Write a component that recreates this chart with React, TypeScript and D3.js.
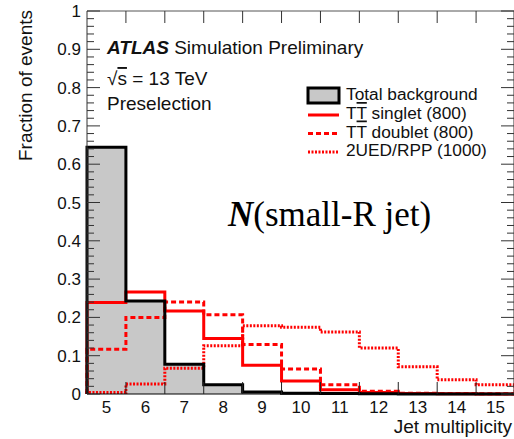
import React from "react";
import * as d3 from "d3";

const bins = [5, 6, 7, 8, 9, 10, 11, 12, 13, 14, 15];
const background = [0.644, 0.243, 0.078, 0.024, 0.005, 0.002, 0.001, 0.0005, 0, 0, 0];
const singlet = [0.239, 0.266, 0.217, 0.145, 0.075, 0.034, 0.011, 0.004, 0.001, 0.0005, 0];
const doublet = [0.117, 0.2, 0.24, 0.207, 0.129, 0.065, 0.024, 0.007, 0.002, 0.001, 0.0005];
const rpp = [0.004, 0.026, 0.067, 0.126, 0.178, 0.174, 0.162, 0.12, 0.071, 0.037, 0.024];
const yTicks = [0, 0.1, 0.2, 0.3, 0.4, 0.5, 0.6, 0.7, 0.8, 0.9, 1];
const yTickLabels = ["0", "0.1", "0.2", "0.3", "0.4", "0.5", "0.6", "0.7", "0.8", "0.9", "1"];

const W = 514;
const H = 439;
const left = 87;
const right = 515;
const top = 11;
const bottom = 394;

const x = d3.scaleLinear().domain([4.5, 15.5]).range([left, right]);
const y = d3.scaleLinear().domain([0, 1]).range([bottom, top]);

function stepPoints(vals: number[]): [number, number][] {
  const pts: [number, number][] = [[bins[0] - 0.5, 0]];
  vals.forEach((v, i) => pts.push([bins[i] - 0.5, v]));
  pts.push([bins[bins.length - 1] + 0.5, vals[vals.length - 1]]);
  pts.push([bins[bins.length - 1] + 0.5, 0]);
  return pts;
}

const line = d3
  .line<[number, number]>()
  .x((d) => x(d[0]))
  .y((d) => y(d[1]))
  .curve(d3.curveStepAfter);

const area = d3
  .area<[number, number]>()
  .x((d) => x(d[0]))
  .y0(y(0))
  .y1((d) => y(d[1]))
  .curve(d3.curveStepAfter);

const SANS = "'Liberation Sans', Arial, Helvetica, sans-serif";
const SERIF = "'Liberation Serif', 'Times New Roman', serif";

export default function App() {
  const bgPts = stepPoints(background);
  const minorY = d3.range(0, 1.0001, 0.02);
  const edges = d3.range(5.5, 15, 1);
  const legendX = 308;
  const legendRows = [118, 136.5, 155];
  return (
    <svg
      width={W}
      height={H}
      style={{ position: "absolute", left: 0, top: 0, background: "#fff" }}
      fontFamily={SANS}
    >
      {/* histograms */}
      <path d={area(bgPts) || ""} fill="#c8c8c8" stroke="none" />
      <path d={line(stepPoints(rpp)) || ""} fill="none" stroke="#ff0000" strokeWidth={3} strokeDasharray="2,1.5" />
      <path d={line(stepPoints(doublet)) || ""} fill="none" stroke="#ff0000" strokeWidth={3} strokeDasharray="5,3" />
      <path d={line(stepPoints(singlet)) || ""} fill="none" stroke="#ff0000" strokeWidth={3} />
      <path d={line(bgPts) || ""} fill="none" stroke="#000" strokeWidth={3} />

      {/* frame */}
      <line x1={left} x2={right} y1={top} y2={top} stroke="#555" strokeWidth={1} />
      <line x1={left} x2={right} y1={bottom} y2={bottom} stroke="#000" strokeWidth={1} />
      <line x1={left} x2={left} y1={top} y2={bottom} stroke="#333" strokeWidth={1} />
      <line x1={right - 1} x2={right - 1} y1={top} y2={bottom} stroke="#333" strokeWidth={1} />

      {/* y ticks */}
      {minorY.map((v, i) => {
        const major = i % 5 === 0;
        const len = major ? 13 : 7;
        return (
          <g key={"yt" + i}>
            <line x1={left} x2={left + len} y1={y(v)} y2={y(v)} stroke="#333" strokeWidth={1} />
            <line x1={right - 1} x2={right - 1 - len} y1={y(v)} y2={y(v)} stroke="#333" strokeWidth={1} />
          </g>
        );
      })}
      {yTicks.map((v, i) => (
        <text key={"yl" + i} x={left - 6} y={y(v) + 6} textAnchor="end" fontSize={17} fill="#111">
          {yTickLabels[i]}
        </text>
      ))}

      {/* x ticks at bin edges */}
      {edges.map((e, i) => (
        <g key={"xt" + i}>
          <line x1={x(e)} x2={x(e)} y1={bottom} y2={bottom - 12} stroke="#222" strokeWidth={1} />
          <line x1={x(e)} x2={x(e)} y1={top} y2={top + 12} stroke="#333" strokeWidth={1} />
        </g>
      ))}
      {bins.map((b) => (
        <text key={"xl" + b} x={x(b)} y={413} textAnchor="middle" fontSize={17} fill="#111">
          {b}
        </text>
      ))}

      {/* axis titles */}
      <text x={512} y={433} textAnchor="end" fontSize={19} fill="#111">
        Jet multiplicity
      </text>
      <text transform="translate(32,10) rotate(-90)" textAnchor="end" fontSize={19} fill="#111">
        Fraction of events
      </text>

      {/* ATLAS labels */}
      <text x={107} y={54} fontSize={19} fill="#111">
        <tspan fontWeight="bold" fontStyle="italic">ATLAS</tspan>
        <tspan> Simulation Preliminary</tspan>
      </text>
      <text x={107} y={85} fontSize={19} fill="#111">
        <tspan>√</tspan>
        <tspan style={{ textDecoration: "overline" }}>s</tspan>
        <tspan> = 13 TeV</tspan>
      </text>
      <text x={107} y={110} fontSize={19} fill="#111">
        Preselection
      </text>

      {/* legend */}
      <rect x={legendX} y={88} width={31} height={15} fill="#c8c8c8" stroke="#000" strokeWidth={3} />
      <text x={346} y={100} fontSize={17.3} fill="#111">Total background</text>
      <line x1={legendX} x2={legendX + 31} y1={legendRows[0] - 3} y2={legendRows[0] - 3} stroke="#ff0000" strokeWidth={3} />
      <text x={346} y={legendRows[0] + 1} fontSize={17.3} fill="#111">
        <tspan>T</tspan>
        <tspan style={{ textDecoration: "overline" }}>T</tspan>
        <tspan> singlet (800)</tspan>
      </text>
      <line x1={legendX} x2={legendX + 31} y1={legendRows[1] - 3} y2={legendRows[1] - 3} stroke="#ff0000" strokeWidth={3} strokeDasharray="5,3" />
      <text x={346} y={legendRows[1] + 1} fontSize={17.3} fill="#111">
        <tspan>T</tspan>
        <tspan style={{ textDecoration: "overline" }}>T</tspan>
        <tspan> doublet (800)</tspan>
      </text>
      <line x1={legendX} x2={legendX + 31} y1={legendRows[2] - 3} y2={legendRows[2] - 3} stroke="#ff0000" strokeWidth={3} strokeDasharray="2,1.5" />
      <text x={346} y={legendRows[2] + 1} fontSize={17.3} fill="#111">2UED/RPP (1000)</text>

      {/* big label */}
      <text x={228} y={226} fontFamily={SERIF} fontSize={35} fill="#000">
        <tspan fontWeight="bold" fontStyle="italic">N</tspan>
        <tspan>(small-R jet)</tspan>
      </text>
    </svg>
  );
}
